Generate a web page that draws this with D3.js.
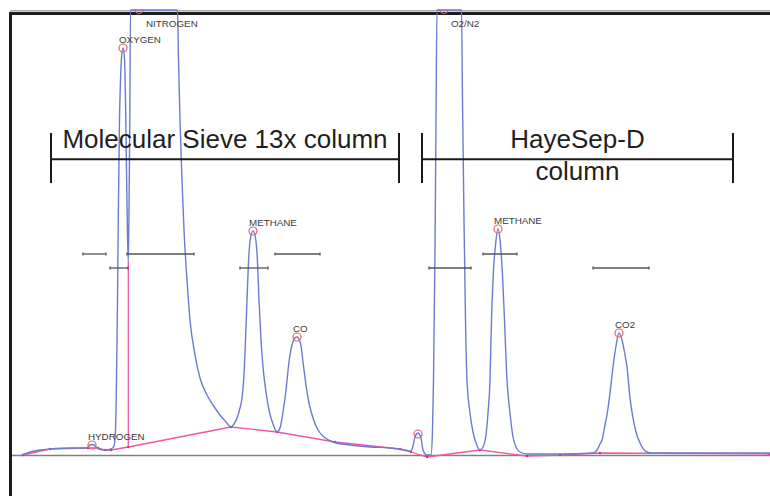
<!DOCTYPE html>
<html>
<head>
<meta charset="utf-8">
<script src="https://cdn.jsdelivr.net/npm/d3@7"></script>
<style>
  html, body { margin: 0; padding: 0; background: #fff; }
  svg { display: block; }
</style>
</head>
<body>
<svg id="chart" width="770" height="496"></svg>
<script>
// ---- Data (time in seconds, signal in mV) ----
const traceTime = [12,20,30,40,60,75,78,80,82,84,86,89,95,101,104,105.5,106.5,107.5,108.5,109.5,110.5,111.5,113,114.5,115.5,116.5,117.5,118.3,119,119.8,120.5,167.5,168.5,170,172,174,177,180,185,190,197,203,210,216,221,224,227,230,232,234,235.5,237,238.5,240.5,243,245.5,247.5,249,251,253,256,259,263,267,270,273,276,279,282,285,287,289,291,293,296,299,303,308,314,323,340,360,380,395,401,403,405,408,411,413,417,421,422.5,423.5,425,426,427,451.5,452.5,454,455.5,457,460,463,466,470,473,476,478,480,481.5,483.5,485.5,488,490.5,492.5,494.5,497,500,503,506,510,517,550,583,587,590,592,595,597,600,603,606,609,612,615,617,620,623,626,630,637,642,690,760];
const traceSignal = [0,3,5,6,7,7,8,10,10.5,10,8,6,5,6,9,25,75,155,255,335,375,397,407,397,355,285,220,193,245,335,445,445,395,335,275,225,175,135,100,77,60,50,40,33,28,31,37,47,57,80,115,155,193,217,224,217,193,155,115,88,63,45,31,23,27,43,65,93,110,117,118,116,109,93,70,52,37,25,18,13,10,8,7,5,4,9,18,22,17,5,0,0,25,75,205,335,445,445,355,235,135,75,42,23,12,5,8,20,42,75,135,185,210,226,210,180,135,75,42,18,8,3,1,1,2,5,11,15,30,40,62,88,109,122,115,100,88,57,37,23,12,3,2,2,2];

const baseTime   = [13,40,78,88,95,101,118.3,221,267,325,390,401,417,470,517,550,590,760];
const baseSignal = [0,6,7,7,5,5,8,28,23,13,6,3,-2,5,-1,0,2,1];

const dropTime   = [118.3];
const dropSignal = [193];

const peakNames   = ["HYDROGEN","OXYGEN","NITROGEN","METHANE","CO","","O2/N2","METHANE","CO2"];
const peakTimes   = [82,113,129,243,287,408,434,488,609];
const peakHeights = [10,407,446,224,118,21,446,226,122];

const eventStart = [73,117,265,473,100,230,419,583];
const eventEnd   = [96,184,310,507,118,258,461,639];
const eventRow   = [1,1,1,1,2,2,2,2];

const columnStart      = [41,412];
const columnEnd        = [389,723];
const columnLabelAbove = ["Molecular Sieve 13x column","HayeSep-D"];
const columnLabelBelow = ["","column"];

// ---- Scales ----
const x = d3.scaleLinear().domain([0, 760]).range([10, 770]);
const y = d3.scaleLinear().domain([0, 442]).range([455, 13]);
const sMax = 445.5;
const clampS = s => Math.min(s, sMax);

const svg = d3.select("#chart");

svg.append("defs").append("clipPath").attr("id","plot")
  .append("rect").attr("x", 12).attr("y", 9).attr("width", 760).attr("height", 490);

// baseline axis (no ticks)
svg.append("g")
  .attr("transform", `translate(0,${y(0)})`)
  .call(d3.axisBottom(x).tickValues([]).tickSizeOuter(0))
  .call(g => g.select(".domain").attr("stroke", "#808080").attr("stroke-width", 1.6));

// frame
svg.append("line").attr("x1", 10).attr("x2", 770).attr("y1", 10.8).attr("y2", 10.8)
  .attr("stroke", "#a8a8a8").attr("stroke-width", 1.5);
svg.append("line").attr("x1", 9).attr("x2", 770).attr("y1", 13.5).attr("y2", 13.5)
  .attr("stroke", "#1c1c1c").attr("stroke-width", 3);
svg.append("line").attr("x1", 10.5).attr("x2", 10.5).attr("y1", 12).attr("y2", 496)
  .attr("stroke", "#1c1c1c").attr("stroke-width", 3);

const plot = svg.append("g").attr("clip-path", "url(#plot)");

// pink baseline
const baseData = baseTime.map((t, i) => [t, baseSignal[i]]);
plot.append("path")
  .datum(baseData)
  .attr("fill", "none").attr("stroke", "#f0589e").attr("stroke-width", 1.3)
  .attr("d", d3.line().x(d => x(d[0])).y(d => y(d[1])));
plot.selectAll("circle.bv").data(baseData).join("circle")
  .attr("class", "bv")
  .attr("cx", d => x(d[0])).attr("cy", d => y(d[1])).attr("r", 1.2)
  .attr("fill", "#c8307a");

// drop lines
plot.selectAll("line.drop").data(dropTime).join("line")
  .attr("class", "drop")
  .attr("x1", d => x(d)).attr("x2", d => x(d))
  .attr("y1", (d, i) => y(dropSignal[i]))
  .attr("y2", d => y(d3.scaleLinear().domain(baseTime).range(baseSignal)(d)))
  .attr("stroke", "#f0589e").attr("stroke-width", 1.3);

// blue trace
const traceData = traceTime.map((t, i) => [t, clampS(traceSignal[i])]);
plot.append("path")
  .datum(traceData)
  .attr("fill", "none").attr("stroke", "#6b7cd0").attr("stroke-width", 1.4)
  .attr("stroke-linejoin", "round")
  .attr("d", d3.line().x(d => x(d[0])).y(d => y(d[1])).curve(d3.curveMonotoneX));

// integration events
const rowY = r => 254 + (r - 1) * 14;
const ev = svg.append("g").attr("stroke", "#555").attr("stroke-width", 1.3);
eventStart.forEach((s, i) => {
  const x1 = x(s), x2 = x(eventEnd[i]), yy = rowY(eventRow[i]);
  ev.append("line").attr("x1", x1).attr("x2", x2).attr("y1", yy).attr("y2", yy);
  ev.append("line").attr("x1", x1).attr("x2", x1).attr("y1", yy - 1.5).attr("y2", yy + 1.5);
  ev.append("line").attr("x1", x2).attr("x2", x2).attr("y1", yy - 1.5).attr("y2", yy + 1.5);
});

// peak markers and labels
peakTimes.forEach((t, i) => {
  const px = x(t), py = y(clampS(peakHeights[i]));
  plot.append("circle").attr("cx", px).attr("cy", py).attr("r", 4)
    .attr("fill", "none").attr("stroke", "#e8626a").attr("stroke-width", 1.2);
  const off = peakHeights[i] > sMax - 1;
  svg.append("text")
    .attr("x", off ? px + 7 : px - 4)
    .attr("y", off ? 27 : py - 5)
    .attr("font-family", "Liberation Sans, Arial, sans-serif")
    .attr("font-size", 9.8)
    .attr("fill", "#3a3a3a")
    .text(peakNames[i]);
});

// column brackets
const br = svg.append("g");
columnStart.forEach((s, i) => {
  const x1 = x(s), x2 = x(columnEnd[i]), cx = (x1 + x2) / 2;
  br.append("line").attr("x1", x1).attr("x2", x2).attr("y1", 159.3).attr("y2", 159.3)
    .attr("stroke", "#1a1a1a").attr("stroke-width", 2);
  [x1, x2].forEach(xx => br.append("line").attr("x1", xx).attr("x2", xx)
    .attr("y1", 133).attr("y2", 183).attr("stroke", "#1a1a1a").attr("stroke-width", 2));
  br.append("text").attr("x", cx).attr("y", 148).attr("text-anchor", "middle")
    .attr("font-family", "Liberation Sans, Arial, sans-serif").attr("font-size", 26)
    .attr("fill", "#1f1f1f").text(columnLabelAbove[i]);
  if (columnLabelBelow[i]) {
    br.append("text").attr("x", cx).attr("y", 180).attr("text-anchor", "middle")
      .attr("font-family", "Liberation Sans, Arial, sans-serif").attr("font-size", 26)
      .attr("fill", "#1f1f1f").text(columnLabelBelow[i]);
  }
});
</script>
</body>
</html>
